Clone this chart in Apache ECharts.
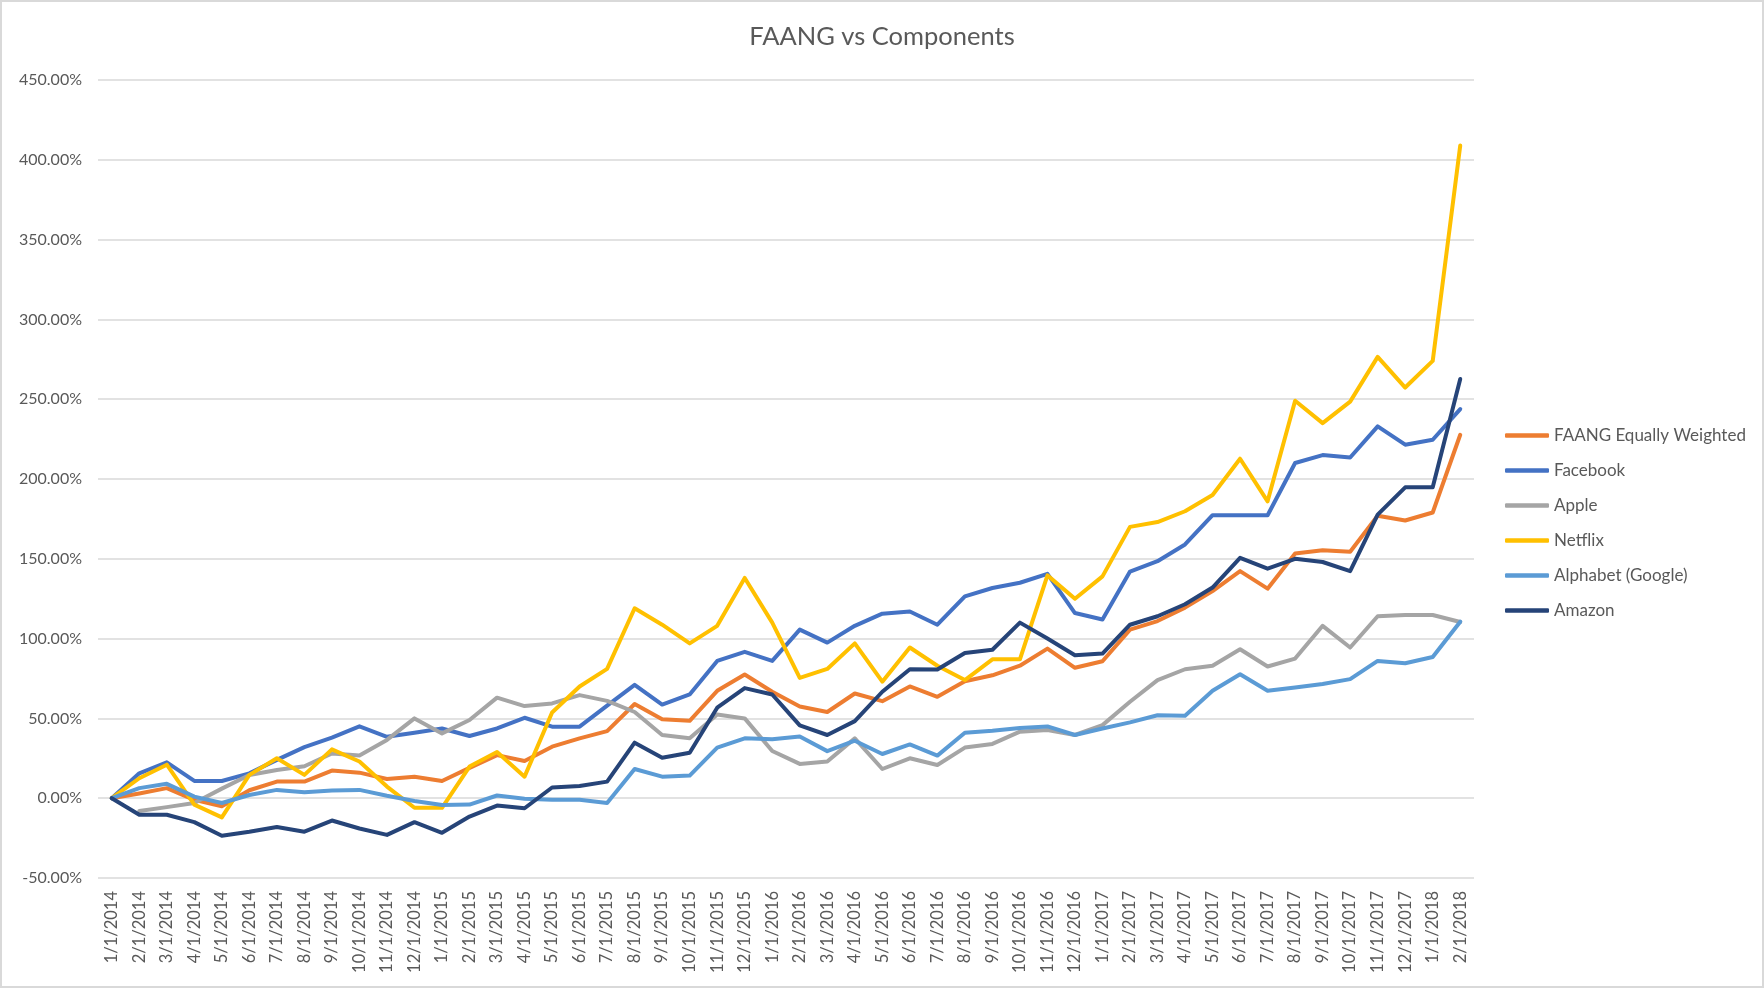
<!DOCTYPE html>
<html>
<head>
<meta charset="utf-8">
<script src="https://cdn.jsdelivr.net/npm/echarts@6/dist/echarts.min.js"></script>
<style>
html,body{margin:0;padding:0;background:#fff;}
#chart{width:1764px;height:988px;box-sizing:border-box;border:2px solid #d9d9d9;}
</style>
</head>
<body>
<div id="chart"></div>
<script>
const categories = [
 '1/1/2014','2/1/2014','3/1/2014','4/1/2014','5/1/2014','6/1/2014','7/1/2014','8/1/2014','9/1/2014','10/1/2014','11/1/2014','12/1/2014',
 '1/1/2015','2/1/2015','3/1/2015','4/1/2015','5/1/2015','6/1/2015','7/1/2015','8/1/2015','9/1/2015','10/1/2015','11/1/2015','12/1/2015',
 '1/1/2016','2/1/2016','3/1/2016','4/1/2016','5/1/2016','6/1/2016','7/1/2016','8/1/2016','9/1/2016','10/1/2016','11/1/2016','12/1/2016',
 '1/1/2017','2/1/2017','3/1/2017','4/1/2017','5/1/2017','6/1/2017','7/1/2017','8/1/2017','9/1/2017','10/1/2017','11/1/2017','12/1/2017',
 '1/1/2018','2/1/2018'
];
const faang = [0,3,6.3,-1,-5,5,10.4,10.4,17.3,16,12,13.5,10.8,19,27,23.3,32.3,37.5,42,59,49.4,48.5,67.3,77.5,66.7,57.5,54,65.6,60.8,70,63.5,73.3,77,83,93.7,81.7,85.8,105.6,111,119.4,129.8,142.3,131.3,153.3,155.4,154.4,177,174,179,227.7];
const facebook = [0,15.6,22.5,10.8,10.8,15.6,24,32,38,45,38.5,41,43.7,39,43.7,50.4,44.8,44.8,58,71,58.7,65,86,91.7,86,105.6,97.5,108,115.6,117,108.7,126.5,131.7,135,140.6,116,112,142,148.5,159,177.3,177.3,177.3,210,215,213.5,233,221.5,224.6,243.8];
const apple = [null,-8,-5.6,-3,6,14.5,17.7,20,28,26.7,36.5,50,40.6,49,63,57.7,59.4,64.6,61,54,39.6,37.5,52.5,50,29.6,21.5,23,37.5,18.3,25,20.8,31.7,34,41.7,42.7,39.6,45.8,60.4,74,80.8,83,93.3,82.5,87.5,108,94.4,114,114.8,114.8,110.4];
const netflix = [0,12.5,21,-4,-12,14.6,25,14.6,30.6,23,7.3,-6,-6,19.8,29,13.5,53.7,70,81,119,108.7,97,108,138,110,75.4,81,97,73,94.4,83,74,87,87,139.6,125,139,170,173,179.8,190,212.7,186,249,235,248.5,276.5,257.3,274,409];
const alphabet = [0,6.3,9,1,-3,2,5.2,3.8,4.8,5.2,1.5,-1.7,-4.3,-4,1.7,-0.4,-1,-1,-3,18.3,13.5,14.2,31.7,37.5,36.9,38.7,29.5,36,27.7,33.7,26.7,41,42.3,44,45,39.6,43.7,47.5,52,51.7,67.3,77.7,67.3,69.4,71.5,74.6,86,84.6,88.5,110.6];
const amazon = [0,-10.4,-10.4,-15,-23.5,-21,-18,-21,-14,-19,-23,-15,-21.7,-11.5,-4.6,-6.3,6.7,7.7,10.4,34.8,25.4,28.5,56.7,69,65,45.6,39.6,48.3,66.7,80.8,80.6,91,93,110,100,89.6,90.6,108.7,114,121.5,132,150.6,143.8,150,148,142.3,177.7,194.8,194.8,262.7];

const seriesDefs = [
 {name:'FAANG Equally Weighted', data:faang, color:'#ED7D31'},
 {name:'Facebook', data:facebook, color:'#4472C4'},
 {name:'Apple', data:apple, color:'#A5A5A5'},
 {name:'Netflix', data:netflix, color:'#FFC000'},
 {name:'Alphabet (Google)', data:alphabet, color:'#5B9BD5'},
 {name:'Amazon', data:amazon, color:'#264478'}
];

const font = 'Lato, "Open Sans", "Noto Sans", sans-serif';
const chart = echarts.init(document.getElementById('chart'));
chart.setOption({
  animation:false,
  backgroundColor:'#fff',
  title:{
    text:'FAANG vs Components', left:'center', top:17,
    textStyle:{fontFamily:font, fontSize:25.5, fontWeight:'normal', color:'#595959'}
  },
  legend:{
    orient:'vertical', left:1498, top:420, itemWidth:44, itemHeight:4.5, itemGap:18,
    icon:'roundRect',
    textStyle:{fontFamily:font, fontSize:17, color:'#595959'},
    data:seriesDefs.map(s=>s.name)
  },
  grid:{left:96, right:288, top:78, bottom:108, containLabel:false},
  xAxis:{
    type:'category', data:categories, boundaryGap:true,
    axisLine:{show:false}, axisTick:{show:false},
    axisLabel:{rotate:90, interval:0, margin:13, fontFamily:font, fontSize:16.5, color:'#595959'}
  },
  yAxis:{
    type:'value', min:-50, max:450, interval:50,
    axisLine:{show:false}, axisTick:{show:false},
    splitLine:{lineStyle:{color:'#d9d9d9', width:1.5}},
    axisLabel:{margin:16, fontFamily:font, fontSize:16, color:'#595959',
      formatter:v=>v.toFixed(2)+'%'}
  },
  series:seriesDefs.map(s=>({
    name:s.name, type:'line', data:s.data, symbol:'none', smooth:false,
    color:s.color,
    lineStyle:{color:s.color, width:4, cap:'round', join:'round'},
    itemStyle:{color:s.color}
  }))
});
</script>
</body>
</html>
